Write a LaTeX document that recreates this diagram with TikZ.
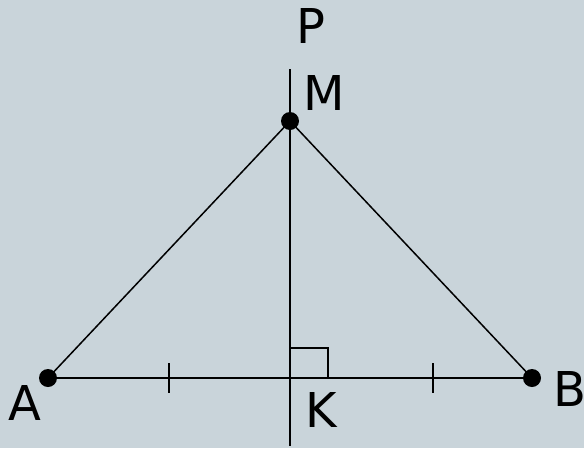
\documentclass[tikz,border=0pt]{standalone}
\usepackage{fontspec}
\setmainfont{DejaVu Sans}
\definecolor{bgc}{RGB}{201,212,218}
\begin{document}
\begin{tikzpicture}[x=1pt,y=-1pt,
  seg/.style={line width=1.5pt,black},
  dot/.style={circle,fill=black,inner sep=0pt,minimum size=18pt},
  lbl/.style={inner sep=0pt,font=\fontsize{48}{48}\selectfont}]
\fill[bgc] (0,0) rectangle (584,448);
\useasboundingbox (0,0) rectangle (584,448);
\coordinate (Ptop) at (290,69);
\coordinate (Pbot) at (290,446);
\coordinate (K) at (290,378);
\node[dot] (A) at (48,378) {};
\node[dot] (B) at (532,378) {};
\node[dot] (M) at (290,121) {};
\draw[seg] (Ptop) -- (Pbot);
\draw[seg] (A.center) -- (B.center);
\draw[seg] (A.center) -- (M.center) -- (B.center);
\draw[seg] (290,348) -- (328,348) -- (328,378);
\coordinate (t1a) at (169,363); \coordinate (t1b) at (169,393);
\coordinate (t2a) at (433,363); \coordinate (t2b) at (433,393);
\draw[seg] (t1a) -- (t1b);
\draw[seg] (t2a) -- (t2b);
\node[lbl] (lP) at (311,26) {P};
\node[lbl] (lM) at (324,93) {M};
\node[lbl] (lA) at (25,403) {A};
\node[lbl] (lK) at (321,410) {K};
\node[lbl] (lB) at (570,389) {B};
\end{tikzpicture}
\end{document}
